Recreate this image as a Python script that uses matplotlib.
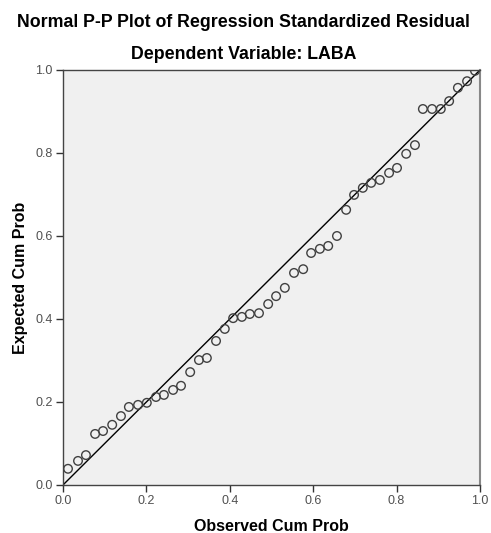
import matplotlib
matplotlib.use("Agg")
from matplotlib import pyplot as plt

# values (48 cases)
observed_cum_prob = [
    0.012, 0.036, 0.055, 0.077, 0.096, 0.118, 0.139, 0.158, 0.180, 0.201,
    0.223, 0.242, 0.264, 0.283, 0.305, 0.326, 0.345, 0.367, 0.388, 0.408,
    0.429, 0.448, 0.470, 0.492, 0.511, 0.532, 0.554, 0.576, 0.595, 0.616,
    0.636, 0.657, 0.679, 0.698, 0.719, 0.739, 0.760, 0.782, 0.801, 0.823,
    0.844, 0.863, 0.885, 0.906, 0.926, 0.947, 0.969, 0.988,
]
expected_cum_prob = [
    0.039, 0.058, 0.072, 0.123, 0.130, 0.145, 0.166, 0.188, 0.193, 0.198,
    0.212, 0.217, 0.229, 0.239, 0.272, 0.301, 0.306, 0.347, 0.376, 0.402,
    0.405, 0.412, 0.414, 0.436, 0.455, 0.475, 0.511, 0.520, 0.559, 0.569,
    0.576, 0.600, 0.663, 0.699, 0.716, 0.728, 0.735, 0.752, 0.764, 0.798,
    0.819, 0.906, 0.906, 0.906, 0.925, 0.957, 0.973, 0.998,
]
tick_values = [0.0, 0.2, 0.4, 0.6, 0.8, 1.0]

plt.rcParams["font.family"] = ["Liberation Sans", "DejaVu Sans"]

fig = plt.figure(figsize=(4.91, 5.33), dpi=100)
ax = fig.add_axes([0.1283, 0.0901, 0.8493, 0.7786])
ax.set_facecolor("#f0f0f0")

ax.plot([0, 1], [0, 1], color="black", linewidth=1.0, zorder=2)
ax.scatter(observed_cum_prob, expected_cum_prob, s=38, facecolors="none",
           edgecolors="#404040", linewidths=1.0, zorder=3)

ax.set_xlim(0, 1)
ax.set_ylim(0, 1)
ax.set_xticks(tick_values)
ax.set_yticks(tick_values)
ax.set_xticklabels([f"{v:.1f}" for v in tick_values])
ax.set_yticklabels([f"{v:.1f}" for v in tick_values])
ax.tick_params(direction="out", length=5, width=1, colors="#333333",
               labelsize=9, labelcolor="#505050", pad=2.5)

for side in ["left", "bottom", "top"]:
    ax.spines[side].set_color("#444444")
    ax.spines[side].set_linewidth(1.0)
ax.spines["right"].set_color("#888888")
ax.spines["right"].set_linewidth(1.5)

ax.set_xlabel("Observed Cum Prob", fontsize=11.5, fontweight="bold", va="center")
ax.set_ylabel("Expected Cum Prob", fontsize=11.5, fontweight="bold", va="center")
ax.xaxis.set_label_coords(0.5, -0.101)
ax.yaxis.set_label_coords(-0.103, 0.5)

fig.text(0.496, 0.957, "Normal P-P Plot of Regression Standardized Residual",
         ha="center", va="center", fontsize=12.8, fontweight="bold")
fig.text(0.496, 0.897, "Dependent Variable: LABA",
         ha="center", va="center", fontsize=12.8, fontweight="bold")

fig.savefig("out.png", dpi=100)
